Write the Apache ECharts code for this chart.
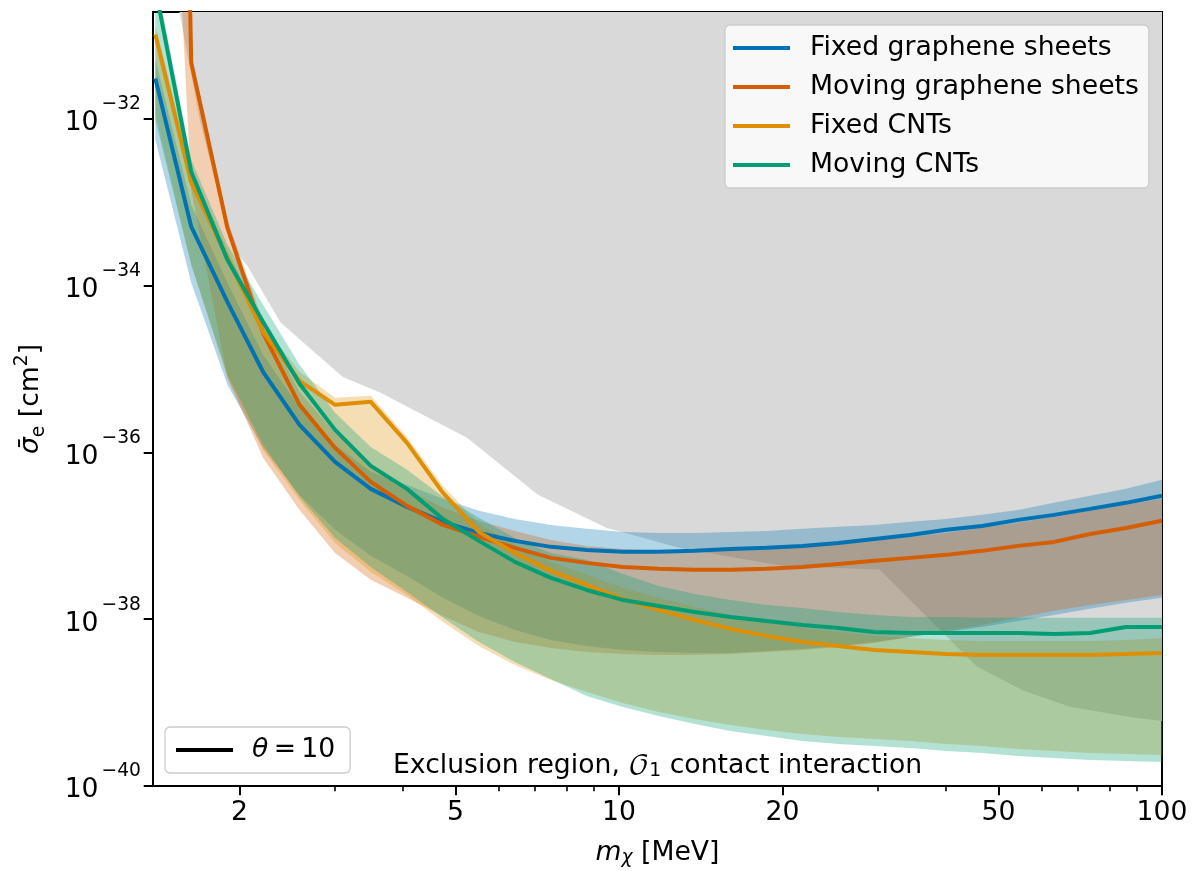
<!DOCTYPE html>
<html><head><meta charset="utf-8">
<script src="https://cdn.jsdelivr.net/npm/echarts@6/dist/echarts.min.js"></script>
<style>html,body{margin:0;padding:0;background:#fff}#chart{width:1192px;height:871px}</style>
</head><body><div id="chart"></div>
<script>
// ---- data (mass in MeV, cross-section in cm^2) ----
const massMeV = [1.40, 1.63, 1.90, 2.21, 2.58, 3.00, 3.49, 4.07, 4.74, 5.52, 6.43, 7.49, 8.72, 10.16, 11.83, 13.78, 16.05, 18.69, 21.77, 25.35, 29.52, 34.39, 40.05, 46.65, 54.33, 63.27, 73.69, 85.83, 100];

const fixedGraphene = [3.02e-32, 5.07e-34, 6.38e-35, 9.24e-36, 2.14e-36, 7.69e-37, 3.65e-37, 2.22e-37, 1.47e-37, 1.08e-37, 8.68e-38, 7.36e-38, 6.77e-38, 6.41e-38, 6.41e-38, 6.59e-38, 6.96e-38, 7.16e-38, 7.56e-38, 8.21e-38, 9.17e-38, 1.02e-37, 1.18e-37, 1.31e-37, 1.55e-37, 1.78e-37, 2.10e-37, 2.48e-37, 3.01e-37];
const fixedGrapheneUpper = [5.10e-32, 9.30e-34, 1.08e-34, 1.48e-35, 3.42e-36, 1.23e-36, 5.84e-37, 4.07e-37, 2.77e-37, 1.99e-37, 1.59e-37, 1.35e-37, 1.21e-37, 1.11e-37, 1.08e-37, 1.08e-37, 1.11e-37, 1.14e-37, 1.21e-37, 1.28e-37, 1.35e-37, 1.47e-37, 1.59e-37, 1.78e-37, 2.04e-37, 2.48e-37, 3.01e-37, 3.65e-37, 4.68e-37];
const fixedGrapheneLower = [5.60e-33, 1.08e-34, 6.45e-36, 1.13e-36, 3.09e-37, 1.18e-37, 5.74e-38, 3.30e-38, 1.80e-38, 1.09e-38, 7.43e-39, 5.64e-39, 4.78e-39, 4.28e-39, 4.05e-39, 3.94e-39, 3.94e-39, 4.16e-39, 4.40e-39, 4.78e-39, 5.33e-39, 6.12e-39, 7.03e-39, 8.07e-39, 9.53e-39, 1.12e-38, 1.33e-38, 1.57e-38, 1.80e-38];

const movingGraphene = [1e-10, 4.70e-32, 4.93e-34, 2.71e-35, 3.71e-36, 1.13e-36, 4.43e-37, 2.28e-37, 1.35e-37, 9.69e-38, 7.16e-38, 5.43e-38, 4.73e-38, 4.23e-38, 4.01e-38, 3.90e-38, 3.90e-38, 4.01e-38, 4.23e-38, 4.60e-38, 5.00e-38, 5.43e-38, 5.90e-38, 6.59e-38, 7.56e-38, 8.44e-38, 1.05e-37, 1.24e-37, 1.51e-37];
const movingGrapheneUpper = [1e-9, 5.86e-32, 6.15e-34, 3.67e-35, 5.31e-36, 1.71e-36, 6.89e-37, 3.55e-37, 2.16e-37, 1.51e-37, 1.14e-37, 8.92e-38, 7.56e-38, 6.96e-38, 6.59e-38, 6.59e-38, 6.77e-38, 6.96e-38, 7.36e-38, 7.99e-38, 8.68e-38, 9.69e-38, 1.08e-37, 1.24e-37, 1.43e-37, 1.68e-37, 1.99e-37, 2.35e-37, 2.77e-37];
const movingGrapheneLower = [4.37e-25, 1.41e-33, 7.83e-36, 8.59e-37, 2.04e-37, 6.23e-38, 2.96e-38, 1.80e-38, 1.09e-38, 7.03e-39, 5.33e-39, 4.52e-39, 4.05e-39, 3.83e-39, 3.73e-39, 3.73e-39, 3.83e-39, 4.05e-39, 4.28e-39, 4.65e-39, 5.19e-39, 6.12e-39, 7.23e-39, 8.53e-39, 1.04e-38, 1.26e-38, 1.48e-38, 1.70e-38, 1.95e-38];

const fixedCNT = [1.02e-31, 1.71e-33, 2.15e-34, 2.79e-35, 7.20e-36, 3.71e-36, 4.03e-36, 1.30e-36, 3.27e-37, 1.11e-37, 6.23e-38, 3.79e-38, 2.58e-38, 1.75e-38, 1.29e-38, 9.79e-39, 7.64e-39, 6.30e-39, 5.33e-39, 4.78e-39, 4.28e-39, 4.05e-39, 3.83e-39, 3.73e-39, 3.73e-39, 3.73e-39, 3.73e-39, 3.83e-39, 3.94e-39];
const fixedCNTUpper = [1.34e-31, 2.45e-33, 2.68e-34, 3.38e-35, 9.24e-36, 4.50e-36, 4.76e-36, 1.53e-36, 3.96e-37, 1.39e-37, 7.77e-38, 4.86e-38, 3.40e-38, 2.37e-38, 1.80e-38, 1.40e-38, 1.12e-38, 9.27e-39, 7.85e-39, 7.03e-39, 6.30e-39, 5.96e-39, 5.64e-39, 5.48e-39, 5.48e-39, 5.48e-39, 5.48e-39, 5.64e-39, 5.96e-39];
const fixedCNTLower = [1.12e-32, 1.77e-34, 7.83e-36, 1.07e-36, 2.69e-37, 8.21e-38, 3.69e-38, 1.95e-38, 9.27e-39, 4.78e-39, 2.83e-39, 1.87e-39, 1.34e-39, 9.90e-40, 7.72e-40, 6.36e-40, 5.39e-40, 4.70e-40, 4.20e-40, 3.87e-40, 3.66e-40, 3.46e-40, 3.19e-40, 3.02e-40, 2.78e-40, 2.63e-40, 2.49e-40, 2.42e-40, 2.35e-40];

const movingCNT = [3.62e-31, 2.31e-33, 2.04e-34, 3.67e-35, 6.63e-36, 1.86e-36, 6.89e-37, 3.65e-37, 1.59e-37, 8.68e-38, 4.86e-38, 3.12e-38, 2.24e-38, 1.70e-38, 1.44e-38, 1.22e-38, 1.06e-38, 9.53e-39, 8.53e-39, 7.85e-39, 7.03e-39, 6.84e-39, 6.84e-39, 6.84e-39, 6.84e-39, 6.65e-39, 6.84e-39, 8.07e-39, 8.07e-39];
const movingCNTUpper = [5.33e-31, 3.22e-33, 3.08e-34, 5.88e-35, 1.12e-35, 2.98e-36, 1.16e-36, 6.17e-37, 2.93e-37, 1.64e-37, 9.43e-38, 6.23e-38, 5.14e-38, 3.49e-38, 2.50e-38, 2.01e-38, 1.70e-38, 1.48e-38, 1.36e-38, 1.22e-38, 1.12e-38, 1.06e-38, 1.06e-38, 1.04e-38, 1.04e-38, 1.04e-38, 1.04e-38, 1.04e-38, 1.04e-38];
const movingCNTLower = [9.72e-33, 1.77e-34, 8.50e-36, 1.23e-36, 2.93e-37, 9.43e-38, 4.23e-38, 2.12e-38, 1.04e-38, 5.33e-39, 3.07e-39, 1.92e-39, 1.20e-39, 8.86e-40, 6.91e-40, 5.54e-40, 4.57e-40, 3.98e-40, 3.46e-40, 3.19e-40, 3.02e-40, 2.86e-40, 2.63e-40, 2.49e-40, 2.29e-40, 2.17e-40, 2.05e-40, 1.99e-40, 1.94e-40];

// lower edge of the existing-limit (exclusion) region; filled up to the top of the plot
const exclusionMass = [1.55, 1.69, 1.86, 1.96, 2.07, 2.38, 3.10, 3.63, 5.25, 7.09, 9.50, 10.6, 12.9, 19.8, 30.2, 45.6, 55.5, 67.7, 87.3, 100];
const exclusionSigma = [1.9e-31, 9.7e-33, 8.1e-34, 2.7e-34, 1.7e-34, 3.6e-35, 8.0e-36, 5.2e-36, 1.5e-36, 3.1e-37, 1.24e-37, 1.02e-37, 7.2e-38, 4.4e-38, 3.9e-38, 2.7e-39, 1.4e-39, 8.9e-40, 6.7e-40, 6.0e-40];

const seriesNames = ['Fixed graphene sheets', 'Moving graphene sheets', 'Fixed CNTs', 'Moving CNTs'];
const xTickLabels = [2, 5, 10, 20, 50, 100];
const xMinorTicks = [2, 3, 4, 5, 6, 7, 8, 9, 10, 20, 30, 40, 50, 60, 70, 80, 90, 100];
const yTickLabels = [1e-40, 1e-38, 1e-36, 1e-34, 1e-32];

// ---- style ----
// y is drawn on a value axis in decades (log10 of the cross-section)
const lg = v => Math.log10(v);
const X_MIN = 1.386, X_MAX = 100, Y_MIN = 1e-40, Y_MAX = 1.9e-31;
const colors = ['#0173b2', '#d55e00', '#de8f05', '#029e73'];
const bandColors = ['rgba(1,115,178,0.3)', 'rgba(213,94,0,0.3)', 'rgba(222,143,5,0.3)', 'rgba(2,158,115,0.3)'];
const FONT = 'DejaVu Sans';
const FS = 26.67, FSS = 18.7;

const lines = [fixedGraphene, movingGraphene, fixedCNT, movingCNT];
const uppers = [fixedGrapheneUpper, movingGrapheneUpper, fixedCNTUpper, movingCNTUpper];
const lowers = [fixedGrapheneLower, movingGrapheneLower, fixedCNTLower, movingCNTLower];

function clipRect(params) {
  const cs = params.coordSys;
  return { type: 'rect', shape: { x: cs.x, y: cs.y, width: cs.width, height: cs.height } };
}

function bandSeries(k) {
  return {
    type: 'custom', name: seriesNames[k] + ' band', silent: true, z: 2, clip: true,
    data: [[massMeV[5], lg(lines[k][5])]],
    renderItem: function (params, api) {
      const pts = [];
      for (let i = 0; i < massMeV.length; i++) pts.push(api.coord([massMeV[i], lg(uppers[k][i])]));
      for (let i = massMeV.length - 1; i >= 0; i--) pts.push(api.coord([massMeV[i], lg(lowers[k][i])]));
      return { type: 'polygon', shape: { points: pts }, style: { fill: bandColors[k], stroke: null }, clipPath: clipRect(params) };
    }
  };
}

const exclusionSeries = {
  type: 'custom', name: 'exclusion', silent: true, z: 1, clip: true,
  data: [[exclusionMass[5], lg(exclusionSigma[5])]],
  renderItem: function (params, api) {
    const pts = [];
    for (let i = 0; i < exclusionMass.length; i++) pts.push(api.coord([exclusionMass[i], lg(exclusionSigma[i])]));
    pts.push(api.coord([exclusionMass[exclusionMass.length - 1], lg(Y_MAX)]));
    pts.push(api.coord([exclusionMass[0], lg(Y_MAX)]));
    return { type: 'polygon', shape: { points: pts }, style: { fill: '#d9d9d9', stroke: null }, clipPath: clipRect(params) };
  }
};

const lineSeries = lines.map((arr, k) => ({
  type: 'line', name: seriesNames[k], z: 5, clip: true,
  data: massMeV.map((m, i) => [m, lg(arr[i])]),
  showSymbol: false, symbol: 'none', smooth: false,
  lineStyle: { color: colors[k], width: 4 },
  itemStyle: { color: colors[k] },
  emphasis: { disabled: true }
}));

const thetaSeries = {
  type: 'line', name: 'theta', data: [], symbol: 'none',
  lineStyle: { color: '#000', width: 4 }, itemStyle: { color: '#000' }
};

const yRich = {
  b: { fontFamily: FONT, fontSize: FS, color: '#000', lineHeight: 42, verticalAlign: 'bottom' },
  s: { fontFamily: FONT, fontSize: FSS, color: '#000', lineHeight: 19, verticalAlign: 'top', padding: [0, 0, 0, 3] }
};

const chart = echarts.init(document.getElementById('chart'), null, { renderer: 'canvas' });
chart.setOption({
  animation: false,
  backgroundColor: '#fff',
  textStyle: { fontFamily: FONT, color: '#000' },
  grid: { left: 153, right: 30, top: 12, bottom: 85, containLabel: false, outerBoundsMode: 'none',
          show: true, borderColor: '#000', borderWidth: 2, backgroundColor: 'transparent' },
  title: {
    text: 'Exclusion region, {o|𝒪}{sub|1} contact interaction',
    left: 393, top: 751, padding: 0,
    textStyle: {
      fontFamily: FONT, fontSize: FS, fontWeight: 'normal', color: '#000', lineHeight: 30,
      rich: {
        o: { fontFamily: "'DejaVu Math TeX Gyre', 'DejaVu Serif', serif", fontSize: FS, color: '#000', lineHeight: 30 },
        sub: { fontFamily: FONT, fontSize: FSS, color: '#000', lineHeight: 16, verticalAlign: 'bottom' }
      }
    }
  },
  legend: [{
    data: seriesNames, orient: 'vertical', left: 725, top: 25,
    padding: [8, 10, 8, 8], itemGap: 9, itemWidth: 57, itemHeight: 4, icon: 'rect',
    backgroundColor: 'rgba(255,255,255,0.8)', borderColor: '#cccccc', borderWidth: 1.3, borderRadius: 5,
    textStyle: { fontFamily: FONT, fontSize: FS, color: '#000', lineHeight: 30, padding: [0, 0, 0, 15] },
    selectedMode: false
  }, {
    data: ['theta'], orient: 'vertical', left: 165, top: 727,
    padding: [8, 15, 8, 11], itemWidth: 57, itemHeight: 4, icon: 'rect',
    backgroundColor: 'rgba(255,255,255,0.8)', borderColor: '#cccccc', borderWidth: 1.3, borderRadius: 5,
    formatter: () => '{i|θ}\u2009=\u200910',
    textStyle: { fontFamily: FONT, fontSize: FS, color: '#000', lineHeight: 30, padding: [0, 0, 0, 14],
      rich: { i: { fontFamily: FONT, fontStyle: 'italic', fontSize: FS, color: '#000', lineHeight: 30 } } },
    selectedMode: false
  }],
  xAxis: [{
    type: 'log', logBase: 10, min: X_MIN, max: X_MAX,
    name: '{i|m}{sub|χ} [MeV]', nameLocation: 'middle', nameGap: 52,
    nameTextStyle: { fontFamily: FONT, fontSize: FS, color: '#000', lineHeight: 30,
      rich: { i: { fontFamily: FONT, fontStyle: 'italic', fontSize: FS, lineHeight: 30, color: '#000' },
              sub: { fontFamily: FONT, fontStyle: 'italic', fontSize: FSS, lineHeight: 16, verticalAlign: 'bottom', color: '#000' } } },
    axisLine: { show: false },
    splitLine: { show: false }, minorTick: { show: false }, minorSplitLine: { show: false },
    axisTick: { show: true, length: 5.3, lineStyle: { color: '#000', width: 1.6 }, customValues: xMinorTicks },
    axisLabel: { customValues: xTickLabels, margin: 14, fontFamily: FONT, fontSize: FS, color: '#000',
      formatter: v => String(Math.round(v)) }
  }, {
    type: 'log', logBase: 10, min: X_MIN, max: X_MAX, position: 'bottom',
    axisLine: { show: false }, splitLine: { show: false },
    axisTick: { show: true, length: 9.3, lineStyle: { color: '#000', width: 2 }, customValues: xTickLabels },
    axisLabel: { show: false }
  }],
  yAxis: {
    type: 'value', min: lg(Y_MIN), max: lg(Y_MAX),
    name: '{i|σ̄}{sub|e} [cm{sup|2}]', nameLocation: 'middle', nameGap: 104, nameRotate: 90,
    nameTextStyle: { fontFamily: FONT, fontSize: FS, color: '#000', lineHeight: 36,
      rich: { i: { fontFamily: FONT, fontStyle: 'italic', fontSize: FS, lineHeight: 36, color: '#000' },
              sub: { fontFamily: FONT, fontSize: FSS, lineHeight: 22, verticalAlign: 'bottom', color: '#000' },
              sup: { fontFamily: FONT, fontSize: FSS, lineHeight: 22, verticalAlign: 'top', color: '#000' } } },
    axisLine: { show: false }, splitLine: { show: false }, minorTick: { show: false },
    axisTick: { show: true, length: 9.3, lineStyle: { color: '#000', width: 2 }, customValues: yTickLabels.map(lg) },
    axisLabel: { customValues: yTickLabels.map(lg), margin: 12, color: '#000', rich: yRich, padding: [0, 0, 6, 0],
      formatter: v => { const e = Math.round(v); return '{b|10}{s|' + (e < 0 ? '−' : '') + Math.abs(e) + '}'; } }
  },
  series: [exclusionSeries, bandSeries(0), bandSeries(1), bandSeries(2), bandSeries(3), ...lineSeries, thetaSeries]
});
</script></body></html>
